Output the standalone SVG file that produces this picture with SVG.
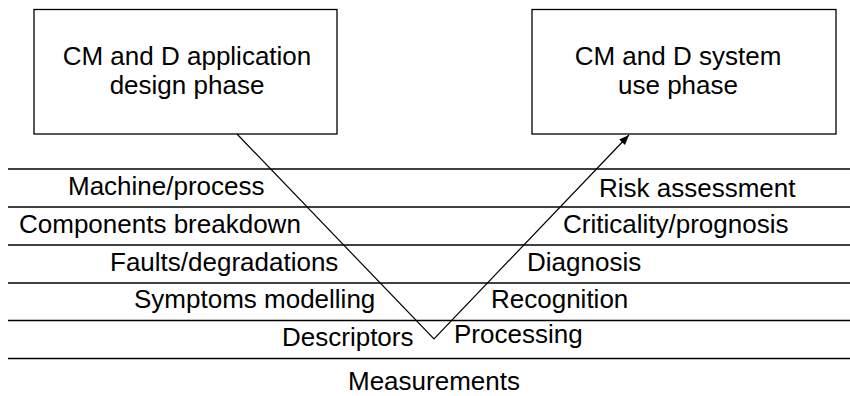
<svg xmlns="http://www.w3.org/2000/svg" width="850" height="396" viewBox="0 0 850 396">
<style>
text{font-family:"Liberation Sans",Arial,sans-serif;font-size:26px;fill:#000}
.box{fill:#fff;stroke:#000;stroke-width:1.3}
.sep{stroke:#000;stroke-width:1.3}
.conn{stroke:#000;stroke-width:1.2;fill:none}
.c{text-anchor:middle}
</style>
<defs>
<marker id="ah" viewBox="0 0 10 10" refX="10" refY="5" markerWidth="10" markerHeight="10" markerUnits="userSpaceOnUse" orient="auto">
<path d="M0,1 L10,5 L0,9 Z" fill="#000"/>
</marker>
</defs>
<g id="layers">
<line class="sep" x1="8" y1="169" x2="850" y2="169"/>
<line class="sep" x1="8" y1="207" x2="850" y2="207"/>
<line class="sep" x1="8" y1="245" x2="850" y2="245"/>
<line class="sep" x1="8" y1="283" x2="850" y2="283"/>
<line class="sep" x1="8" y1="320.5" x2="850" y2="320.5"/>
<line class="sep" x1="8" y1="358.5" x2="850" y2="358.5"/>
</g>
<g id="design-box">
<rect class="box" x="34" y="9.5" width="303" height="124.5"/>
<text class="c" x="187" y="65">CM and D application</text>
<text class="c" x="187" y="94">design phase</text>
</g>
<g id="use-box">
<rect class="box" x="532" y="9.5" width="304" height="124.5"/>
<text class="c" x="678" y="65">CM and D system</text>
<text class="c" x="678" y="94">use phase</text>
</g>
<g id="connectors">
<polyline class="conn" points="237,134 434,339 629,135" marker-end="url(#ah)"/>
</g>
<g id="labels-left">
<text x="68" y="195">Machine/process</text>
<text x="19" y="233">Components breakdown</text>
<text x="110" y="271">Faults/degradations</text>
<text x="134" y="308">Symptoms modelling</text>
<text x="282" y="346">Descriptors</text>
</g>
<g id="labels-right">
<text x="599" y="197">Risk assessment</text>
<text x="563" y="233">Criticality/prognosis</text>
<text x="527" y="271">Diagnosis</text>
<text x="491" y="308">Recognition</text>
<text x="454" y="343">Processing</text>
</g>
<g id="bottom">
<text x="348" y="390">Measurements</text>
</g>
</svg>
